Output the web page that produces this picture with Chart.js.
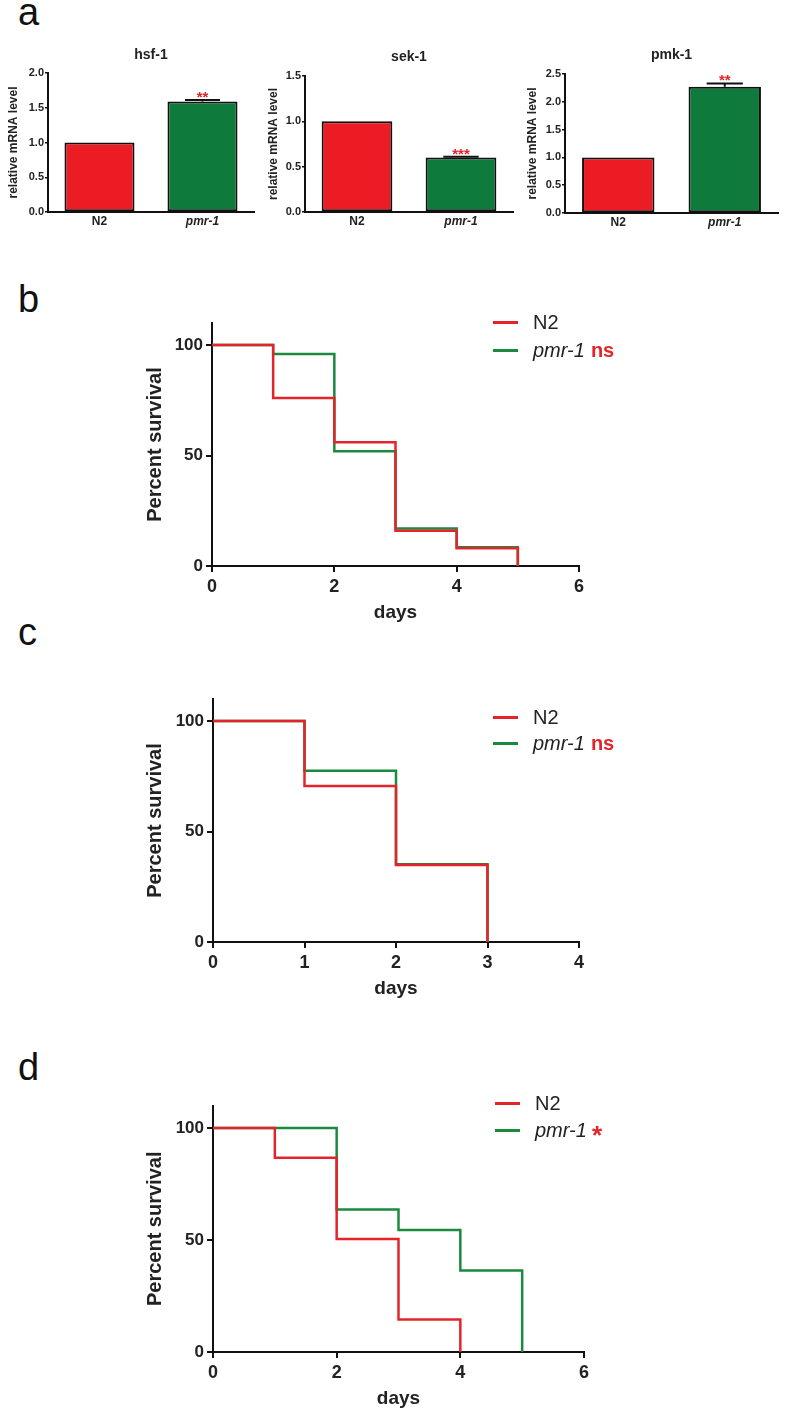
<!DOCTYPE html>
<html>
<head>
<meta charset="utf-8">
<script src="https://cdn.jsdelivr.net/npm/chart.js@4.4.0/dist/chart.umd.min.js"></script>
<style>
  body { margin: 0; width: 800px; height: 1411px; background: #fff; position: relative; overflow: hidden;
         font-family: "Liberation Sans", Arial, sans-serif; }
  canvas { position: absolute; }
  .panel { position: absolute; font-size: 38px; line-height: 38px; color: #111; }
  .leg { position: absolute; height: 24px; line-height: 24px; font-size: 20px; display: flex; align-items: center;
         color: #222; white-space: nowrap; }
  .leg .sw { display: inline-block; width: 25px; height: 3px; margin-right: 15px; }
  .leg i { font-style: italic; }
  .leg .sig { color: #e3242b; font-weight: bold; margin-left: 6px; }
  .leg .big { font-size: 26px; position: relative; top: 5px; margin-left: 5px; }
</style>
</head>
<body>

<div class="panel" style="left:18px;top:-7px">a</div>
<div class="panel" style="left:18px;top:280px">b</div>
<div class="panel" style="left:18px;top:613px">c</div>
<div class="panel" style="left:18px;top:1048px">d</div>

<canvas id="bar1" width="262" height="210" style="left:0px;top:30px"></canvas>
<canvas id="bar2" width="259" height="210" style="left:262px;top:30px"></canvas>
<canvas id="bar3" width="265" height="211" style="left:521px;top:30px"></canvas>

<canvas id="survB" width="461" height="324" style="left:130px;top:300px"></canvas>
<canvas id="survC" width="461" height="320" style="left:130px;top:680px"></canvas>
<canvas id="survD" width="466" height="325" style="left:130px;top:1085px"></canvas>

<div class="leg" style="left:493px;top:310px"><span class="sw" style="background:#e3242b"></span>N2</div>
<div class="leg" style="left:493px;top:338px"><span class="sw" style="background:#1b8a3f"></span><i>pmr-1</i><span class="sig">ns</span></div>
<div class="leg" style="left:493px;top:705px"><span class="sw" style="background:#e3242b"></span>N2</div>
<div class="leg" style="left:493px;top:731px"><span class="sw" style="background:#1b8a3f"></span><i>pmr-1</i><span class="sig">ns</span></div>
<div class="leg" style="left:495px;top:1091px"><span class="sw" style="background:#e3242b"></span>N2</div>
<div class="leg" style="left:495px;top:1118px"><span class="sw" style="background:#1b8a3f"></span><i>pmr-1</i><span class="sig big">*</span></div>

<script>
// panel a: relative mRNA level
var strains = ['N2', 'pmr-1'];
var hsfMean = [1.0, 1.59];
var hsfErr  = [0, 0.02];
var sekMean = [1.0, 0.60];
var sekErr  = [0, 0.01];
var pmkMean = [1.0, 2.27];
var pmkErr  = [0, 0.06];

// panel b
var daysB = [0, 1, 2, 3, 4, 5];
var n2B   = [100, 76, 56, 16, 8, 0];
var pmrB  = [100, 96, 52, 17, 8.5, 0];

// panel c
var daysC = [0, 1, 2, 3];
var n2C   = [100, 70.6, 34.8, 0];
var pmrC  = [100, 77.5, 35.2, 0];

// panel d
var daysN2D  = [0, 1, 2, 3, 4];
var n2D      = [100, 86.7, 50.5, 14.5, 0];
var daysPmrD = [0, 1, 2, 3, 4, 5];
var pmrD     = [100, 100, 63.6, 54.5, 36.4, 0];

var survTicks = [0, 50, 100];

var RED = '#e3242b', GREEN = '#1b8a3f';
var BAR_RED = '#ec1c24', BAR_GREEN = '#0e7a3b';
var INK = '#111';

Chart.defaults.font.family = '"Liberation Sans", Arial, sans-serif';
Chart.defaults.color = '#222';

var errorBars = {
    id: 'errorBars',
    afterDatasetsDraw: function(chart, args, opts) {
        var c = chart.ctx;
        var ys = chart.scales.y;
        var means = chart.data.datasets[0].data;
        chart.getDatasetMeta(0).data.forEach(function(bar, i) {
            if (!opts.errs[i]) return;
            var capY = ys.getPixelForValue(means[i] + opts.errs[i]);
            var half = bar.width / 4;
            c.save();
            c.strokeStyle = INK;
            c.lineWidth = 2;
            c.beginPath();
            c.moveTo(bar.x, bar.y);
            c.lineTo(bar.x, capY);
            c.moveTo(bar.x - half, capY);
            c.lineTo(bar.x + half, capY);
            c.stroke();
            c.fillStyle = RED;
            c.font = 'bold 15px "Liberation Sans", Arial, sans-serif';
            c.textAlign = 'center';
            c.textBaseline = 'alphabetic';
            c.fillText(opts.star, bar.x, capY + 2);
            c.restore();
        });
    }
};

function barChart(id, title, means, errs, yMax, star, yWidth, titlePad, yTitlePad) {
    return new Chart(document.getElementById(id), {
        type: 'bar',
        data: {
            labels: strains,
            datasets: [{
                data: means,
                backgroundColor: [BAR_RED, BAR_GREEN],
                borderColor: INK,
                borderWidth: 2,
                borderSkipped: false,
                barPercentage: 0.68,
                categoryPercentage: 1
            }]
        },
        options: {
            responsive: false,
            animation: false,
            events: [],
            layout: { padding: { left: 4, right: 8, top: 0, bottom: 0 } },
            plugins: {
                legend: { display: false },
                tooltip: { enabled: false },
                title: {
                    display: true,
                    text: title,
                    fullSize: false,
                    font: { size: 14, weight: 'bold' },
                    color: '#222',
                    padding: titlePad
                },
                errorBars: { errs: errs, star: star }
            },
            scales: {
                x: {
                    grid: { display: false, drawTicks: false },
                    border: { display: true, color: INK, width: 2 },
                    ticks: {
                        padding: 2,
                        color: '#222',
                        font: function(c) {
                            return { size: 12, weight: 'bold', style: c.index === 1 ? 'italic' : 'normal' };
                        }
                    },
                    afterFit: function(s) { s.height = 28; }
                },
                y: {
                    min: 0,
                    max: yMax,
                    grid: { drawOnChartArea: false, tickLength: 3, color: INK, lineWidth: 1.5 },
                    border: { display: true, color: INK, width: 2 },
                    ticks: {
                        stepSize: 0.5,
                        padding: 1,
                        font: { size: 11, weight: 'bold' },
                        callback: function(v) { return v.toFixed(1); }
                    },
                    title: {
                        display: true,
                        text: 'relative mRNA level',
                        font: { size: 12, weight: 'bold' },
                        padding: { top: yTitlePad, bottom: 0 }
                    },
                    afterFit: function(s) { s.width = yWidth; }
                }
            }
        },
        plugins: [errorBars]
    });
}

function steps(days, vals) {
    return days.map(function(d, i) { return { x: d, y: vals[i] }; });
}

function survivalChart(id, n2Days, n2Vals, pmrDays, pmrVals, xMax, xStep, padTop, yWidth) {
    return new Chart(document.getElementById(id), {
        type: 'line',
        data: {
            datasets: [
                { label: 'N2', data: steps(n2Days, n2Vals), borderColor: RED, borderWidth: 2.5,
                  stepped: true, pointRadius: 0, fill: false },
                { label: 'pmr-1', data: steps(pmrDays, pmrVals), borderColor: GREEN, borderWidth: 2.5,
                  stepped: true, pointRadius: 0, fill: false }
            ]
        },
        options: {
            responsive: false,
            animation: false,
            events: [],
            layout: { padding: { left: 0, right: 12, top: padTop, bottom: 0 } },
            plugins: { legend: { display: false }, tooltip: { enabled: false } },
            scales: {
                x: {
                    type: 'linear',
                    min: 0,
                    max: xMax,
                    grid: { drawOnChartArea: false, tickLength: 6, color: INK, lineWidth: 2 },
                    border: { display: true, color: INK, width: 2 },
                    ticks: { stepSize: xStep, padding: 4, font: { size: 18, weight: 'bold' } },
                    title: { display: true, text: 'days', font: { size: 19, weight: 'bold' }, padding: 0 },
                    afterFit: function(s) { s.height = 58; }
                },
                y: {
                    min: 0,
                    max: 110,
                    afterBuildTicks: function(s) {
                        s.ticks = survTicks.map(function(v) { return { value: v }; });
                    },
                    grid: { drawOnChartArea: false, tickLength: 6, color: INK, lineWidth: 2 },
                    border: { display: true, color: INK, width: 2 },
                    ticks: { padding: 3, font: { size: 17, weight: 'bold' } },
                    title: {
                        display: true,
                        text: 'Percent survival',
                        font: { size: 20, weight: 'bold' },
                        padding: { top: 13, bottom: 0 }
                    },
                    afterFit: function(s) { s.width = yWidth; }
                }
            }
        }
    });
}

barChart('bar1', 'hsf-1', hsfMean, hsfErr, 2.0, '**', 44, { top: 17, bottom: 9.2 }, 2);
barChart('bar2', 'sek-1', sekMean, sekErr, 1.5, '***', 39, { top: 19, bottom: 10.2 }, 0);
barChart('bar3', 'pmk-1', pmkMean, pmkErr, 2.5, '**', 40, { top: 17, bottom: 10.2 }, 0);

survivalChart('survB', daysB, n2B, daysB, pmrB, 6, 2, 23, 82);
survivalChart('survC', daysC, n2C, daysC, pmrC, 4, 1, 19, 83);
survivalChart('survD', daysN2D, n2D, daysPmrD, pmrD, 6, 2, 20.6, 83);
</script>
</body>
</html>
